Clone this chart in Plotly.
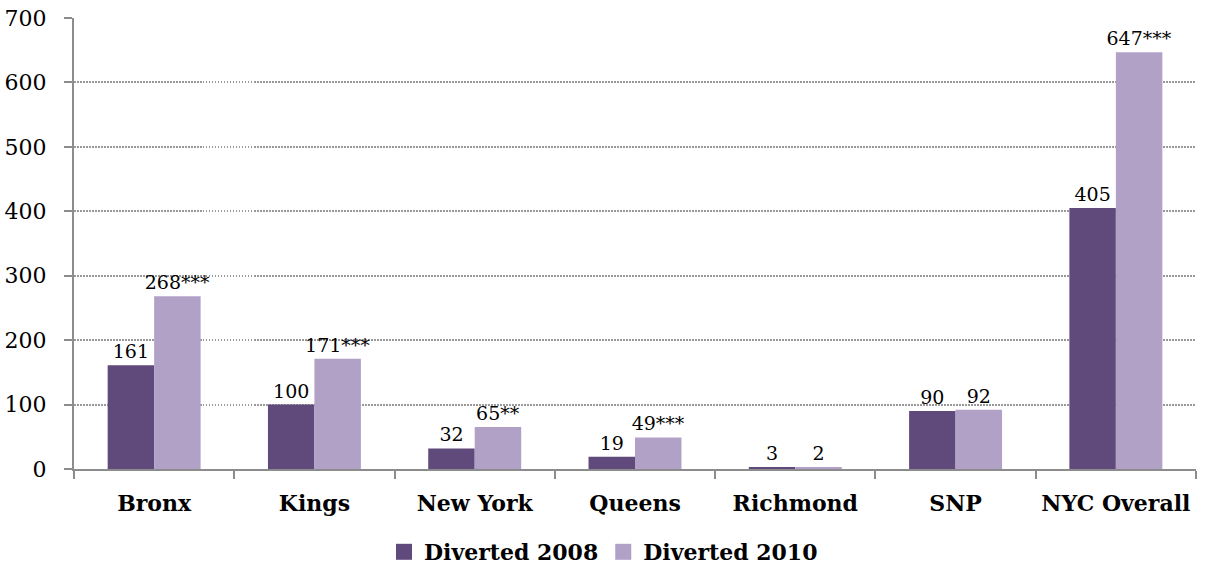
import plotly.graph_objects as go

categories = ["Bronx", "Kings", "New York", "Queens", "Richmond", "SNP", "NYC Overall"]
diverted_2008 = [161, 100, 32, 19, 3, 90, 405]
diverted_2010 = [268, 171, 65, 49, 2, 92, 647]
labels_2008 = ["161", "100", "32", "19", "3", "90", "405"]
labels_2010 = ["268***", "171***", "65**", "49***", "2", "92", "647***"]
y_ticks = [0, 100, 200, 300, 400, 500, 600, 700]

SERIF = "'DejaVu Serif', 'Liberation Serif', serif"
AXIS_GRAY = "#8c8c8c"
DARK = "#5f4a7b"
LIGHT = "#b2a1c7"

fig = go.Figure()
for name, vals, labels, color in [
    ("Diverted 2008", diverted_2008, labels_2008, DARK),
    ("Diverted 2010", diverted_2010, labels_2010, LIGHT),
]:
    fig.add_trace(go.Bar(
        x=categories, y=vals, name=name, showlegend=False,
        marker=dict(color=color, line=dict(width=0)),
        text=labels, textposition="outside", constraintext="none",
        textfont=dict(family=SERIF, size=19, color="#000000"),
        cliponaxis=False,
    ))

# square legend keys
for name, color in [("Diverted 2008", DARK), ("Diverted 2010", LIGHT)]:
    fig.add_trace(go.Scatter(
        x=[None], y=[None], mode="markers", name=name,
        marker=dict(symbol="square", size=17, color=color, line=dict(width=0)),
    ))

fig.update_layout(
    width=1207, height=575,
    margin=dict(l=74, r=11, t=18, b=106, autoexpand=False),
    paper_bgcolor="white", plot_bgcolor="white",
    barmode="group", bargap=0.42, bargroupgap=0.0,
    font=dict(family=SERIF, color="#000000"),
    showlegend=True,
    legend=dict(
        orientation="h", xref="container", x=0.5, xanchor="center",
        yref="container", y=0.04, yanchor="middle",
        font=dict(family=SERIF, size=22, color="#000000", weight="bold"),
        itemwidth=30, tracegroupgap=0,
    ),
)

fig.update_xaxes(
    showline=True, linecolor=AXIS_GRAY, linewidth=2,
    ticks="outside", tickson="boundaries", ticklen=8, tickwidth=2, tickcolor=AXIS_GRAY,
    tickfont=dict(family=SERIF, size=22, color="#000000", weight="bold"),
    showgrid=False, ticklabelstandoff=14, automargin=False,
)
fig.update_yaxes(
    range=[0, 700], tickvals=y_ticks,
    showline=True, linecolor=AXIS_GRAY, linewidth=2,
    ticks="outside", ticklen=8, tickwidth=2, tickcolor=AXIS_GRAY,
    tickfont=dict(family=SERIF, size=22, color="#000000"),
    showgrid=True, gridcolor="#999999", gridwidth=1.5, griddash="1.5px,1.5px",
    zeroline=False, ticklabelstandoff=13, automargin=False,
)

fig.write_html("out.html")
